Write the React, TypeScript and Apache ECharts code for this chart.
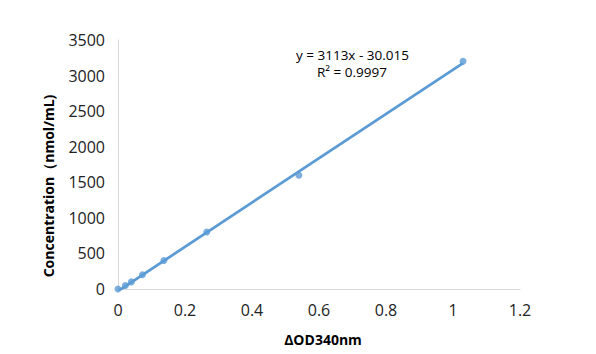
import React, { useEffect, useRef } from "react";
import * as echarts from "echarts";

const odValues = [0, 0.022, 0.04, 0.073, 0.137, 0.265, 0.54, 1.03];
const concValues = [0, 50, 100, 200, 400, 800, 1600, 3200];
const slope = 3113;
const intercept = -30.015;
const equationText = "y = 3113x - 30.015";
const r2Text = "R² = 0.9997";
const yTitle = "Concentration（nmol/mL)";
const xTitle = "ΔOD340nm";
const xTicks = [0, 0.2, 0.4, 0.6, 0.8, 1, 1.2];
const yTicks = [0, 500, 1000, 1500, 2000, 2500, 3000, 3500];

export default function App() {
  const ref = useRef<HTMLDivElement>(null);
  useEffect(() => {
    if (!ref.current) return;
    const chart = echarts.init(ref.current, undefined, { renderer: "svg" });
    const xMin = odValues[0];
    const xMax = odValues[odValues.length - 1];
    const trend = [
      [xMin, slope * xMin + intercept],
      [xMax, slope * xMax + intercept],
    ];
    const font = "Open Sans, sans-serif";
    chart.setOption({
      animation: false,
      backgroundColor: "#fff",
      grid: { left: 118, right: 76, top: 40, bottom: 65, outerBoundsMode: "none", containLabel: false },
      xAxis: {
        type: "value",
        min: xTicks[0],
        max: xTicks[xTicks.length - 1],
        interval: 0.2,
        name: xTitle,
        nameLocation: "middle",
        nameGap: 43,
        nameTextStyle: { fontFamily: font, fontWeight: "bold", fontSize: 14, color: "#000", padding: [0, 0, 0, 8] },
        axisLine: { show: true, onZero: false, lineStyle: { color: "#d9d9d9", width: 1 } },
        axisTick: { show: false },
        splitLine: { show: false },
        axisLabel: { fontFamily: font, fontSize: 16, color: "#222", margin: 13 },
      },
      yAxis: {
        type: "value",
        min: yTicks[0],
        max: yTicks[yTicks.length - 1],
        interval: 500,
        axisLine: { show: true, lineStyle: { color: "#d9d9d9", width: 1 } },
        axisTick: { show: false },
        splitLine: { show: false },
        axisLabel: {
          fontFamily: font,
          fontSize: 16,
          color: "#222",
          margin: 13,
          formatter: (v: number) => String(v),
        },
      },
      series: [
        {
          type: "line",
          data: trend,
          symbol: "none",
          lineStyle: { color: "#5b9bd5", width: 2.75 },
          z: 2,
        },
        {
          type: "scatter",
          data: odValues.map((x, i) => [x, concValues[i]]),
          symbolSize: 7,
          itemStyle: { color: "#5b9bd5" },
          z: 3,
        },
      ],
      graphic: [
        {
          type: "text",
          x: 48,
          y: 186,
          rotation: Math.PI / 2,
          style: {
            text: yTitle,
            font: `bold 14px ${font}`,
            fill: "#000",
            align: "center",
            verticalAlign: "middle",
          },
        },
        {
          type: "text",
          left: 296,
          top: 48,
          style: { text: equationText, font: `13.5px ${font}`, fill: "#000" },
        },
        {
          type: "text",
          left: 317,
          top: 65,
          style: { text: r2Text, font: `13.5px ${font}`, fill: "#000" },
        },
      ],
    });
    return () => chart.dispose();
  }, []);
  return (
    <div
      ref={ref}
      style={{ position: "absolute", left: 0, top: 0, width: 596, height: 354 }}
    />
  );
}
